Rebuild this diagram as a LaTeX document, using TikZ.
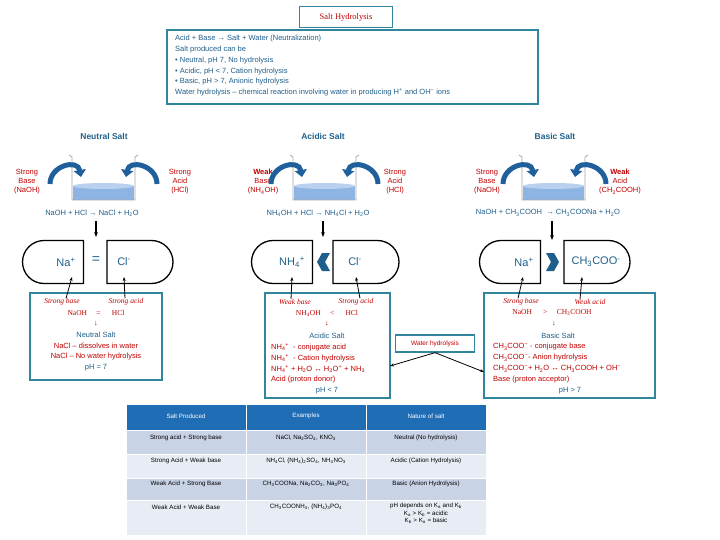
\documentclass[tikz,border=0pt]{standalone}
\usepackage{fontspec}
\setmainfont{Liberation Sans}
\newfontfamily\serifit{Liberation Serif}
\usetikzlibrary{shapes.misc,arrows.meta}
\definecolor{rd}{HTML}{C00000}
\definecolor{bl}{HTML}{1F5F8B}
\definecolor{tl}{HTML}{31859C}
\definecolor{hd}{HTML}{1F6EB5}
\definecolor{ra}{HTML}{C9D3E6}
\definecolor{rb}{HTML}{E8ECF4}
\definecolor{arr}{HTML}{1F5F9B}
\definecolor{liq}{HTML}{8EB4E3}
\definecolor{liqt}{HTML}{B9D0EE}
\newcommand{\ssb}[1]{\textsubscript{#1}}
\newcommand{\ssp}[1]{\textsuperscript{#1}}
\tikzset{
 txt/.style={font=\fontsize{7.5}{9}\selectfont, inner sep=0pt},
 rtxt/.style={txt, text=rd, align=center},
 btxt/.style={txt, text=bl},
 head/.style={font=\fontsize{8.5}{10}\selectfont\bfseries, text=bl, inner sep=0pt},
 ser/.style={font=\fontsize{7.5}{9}\selectfont\serifit\itshape, text=rd, inner sep=0pt},
 sern/.style={font=\fontsize{7.5}{9}\selectfont\serifit, text=rd, inner sep=0pt},
 tbox/.style={draw=tl, line width=1.5pt, fill=white},
 ionL/.style={rounded rectangle, rounded rectangle right arc=none, draw, line width=1.3pt, minimum width=61pt, minimum height=43pt, inner sep=0pt},
 ionR/.style={rounded rectangle, rounded rectangle left arc=none, draw, line width=1.3pt, minimum width=66pt, minimum height=43pt, inner sep=0pt},
 iontxt/.style={font=\fontsize{11}{13}\selectfont, text=bl, inner sep=0pt},
 curv/.style={draw=arr, line width=5pt, -{Triangle[length=7pt,width=12pt]}},
 blk/.style={-{Stealth[length=5pt]}, line width=1.1pt},
 thin/.style={-{Stealth[length=4pt]}, line width=0.8pt},
 cell/.style={font=\fontsize{6.2}{7.5}\selectfont, inner sep=0pt, align=center},
}
\newcommand{\beaker}[3]{% name, left x, top y
 \fill[liq] (#2+1,#3+31) rectangle (#2+62,#3+45);
 \fill[liqt] (#2+31.5,#3+31) ellipse (30.5 and 3);
 \draw[gray!70, line width=0.8pt] (#2-3,#3) -- (#2,#3+2) -- (#2,#3+45) -- (#2+63,#3+45) -- (#2+63,#3+2) -- (#2+66,#3);
 \coordinate (#1) at (#2+31.5,#3+22);
}
\begin{document}
\begin{tikzpicture}[x=1pt,y=-1pt]
\useasboundingbox (0,0) rectangle (720,540);
% title
\node[draw=tl, line width=1.5pt, minimum width=93pt, minimum height=21pt, font=\fontsize{8.5}{10}\selectfont\serifit, text=rd] (title) at (346,17) {Salt Hydrolysis};
\draw[tbox] (167,30) rectangle (538,104);
\node[btxt, anchor=north west, align=left, font=\fontsize{7.5}{10.8}\selectfont] (info) at (175,35) {Acid + Base → Salt + Water (Neutralization)\\Salt produced can be\\• Neutral, pH 7, No hydrolysis\\• Acidic, pH < 7, Cation hydrolysis\\• Basic, pH > 7, Anionic hydrolysis\\Water hydrolysis – chemical reaction involving water in producing H\ssp{+} and OH\ssp{−} ions};

% ===== Neutral =====
\node[head] (h1) at (104,136) {Neutral Salt};
\beaker{bk1}{72}{155}
\node[rtxt] (sb1) at (27,182) {Strong\\Base\\(NaOH)};
\node[rtxt] (sa1) at (180,182) {Strong\\Acid\\(HCl)};
\draw[curv] (50,184) to[out=90,in=100,looseness=1.5] (81,177);
\draw[curv] (157,184) to[out=90,in=80,looseness=1.5] (126,177);
\node[btxt] (eq1) at (92,213) {NaOH + HCl → NaCl + H\ssb{2}O};
\node[ionL] (na1) at (53,262) {};
\node[iontxt] at (66,262) {Na\ssp{+}};
\node[ionR] (cl1) at (140,262) {};
\node[iontxt] at (124,262) {Cl\ssp{-}};
\node[iontxt, font=\fontsize{14}{14}\selectfont] (eqs) at (96,260) {=};
\draw[blk] (96,221) -- (96,237);
\draw[tbox] (30,293) rectangle (162,380);
\node[ser] (l1a) at (62,302) {Strong base};
\node[ser] (l1b) at (126,302) {Strong acid};
\node[sern] at (96,313) {NaOH\quad\ =\quad\ \ HCl};
\node[txt,text=rd] at (96,324) {↓};
\node[btxt] at (96,335) {Neutral Salt};
\node[rtxt] at (96,346) {NaCl – dissolves in water};
\node[rtxt] at (96,357) {NaCl – No water hydrolysis};
\node[btxt] at (96,368) {pH = 7};
\draw[thin] (l1a.north) ++(4,0) -- (72,277);
\draw[thin] (l1b.north) ++(-1,0) -- (124,277);

% ===== Acidic =====
\node[head] (h2) at (323,136) {Acidic Salt};
\beaker{bk2}{293}{155}
\node[rtxt] (wb2) at (263,182) {\textbf{Weak}\\Base\\(NH\ssb{4}OH)};
\node[rtxt] (sa2) at (395,182) {Strong\\Acid\\(HCl)};
\draw[curv] (271,184) to[out=90,in=100,looseness=1.5] (302,177);
\draw[curv] (378,184) to[out=90,in=80,looseness=1.5] (347,177);
\node[btxt] (eq2) at (318,213) {NH\ssb{4}OH + HCl → NH\ssb{4}Cl + H\ssb{2}O};
\node[ionL] (nh) at (282,262) {};
\node[iontxt] at (292,262) {NH\ssb{4}\ssp{+}};
\node[ionR] (cl2) at (366,262) {};
\node[iontxt] at (355,262) {Cl\ssp{-}};
\fill[bl] (330,253) -- (325,262) -- (330,271) -- (322,271) -- (317,262) -- (322,253) -- cycle;
\coordinate (c2) at (323,237);
\draw[blk] (323,221) -- (c2);
\draw[tbox] (265,293) rectangle (390,398);
\node[ser] (l2a) at (295,302) {Weak base};
\node[ser] (l2b) at (356,302) {Strong acid};
\node[sern] at (327,313) {NH\ssb{4}OH\quad\ <\quad\ \ HCl};
\node[txt,text=rd] at (327,324) {↓};
\node[btxt] at (327,336) {Acidic Salt};
\node[txt, text=rd, anchor=west] at (271,347) {NH\ssb{4}\ssp{+}\ \ - conjugate acid};
\node[txt, text=rd, anchor=west] at (271,358) {NH\ssb{4}\ssp{+}\ \ - Cation hydrolysis};
\node[txt, text=rd, anchor=west] at (271,369) {NH\ssb{4}\ssp{+} + H\ssb{2}O ↔ H\ssb{3}O\ssp{+} + NH\ssb{3}};
\node[txt, text=rd, anchor=west] at (271,380) {Acid (proton donor)};
\node[btxt] at (327,391) {pH < 7};
\draw[thin] (l2a.north) ++(-4,0) -- (292,277);
\draw[thin] (l2b.north) ++(4,0) -- (356,277);

% ===== Basic =====
\node[head] (h3) at (555,136) {Basic Salt};
\beaker{bk3}{522}{155}
\node[rtxt] (sb3) at (487,182) {Strong\\Base\\(NaOH)};
\node[rtxt] (wa3) at (620,182) {\textbf{Weak}\\Acid\\(CH\ssb{3}COOH)};
\draw[curv] (503,184) to[out=90,in=100,looseness=1.5] (534,177);
\draw[curv] (606,184) to[out=90,in=80,looseness=1.5] (575,177);
\node[btxt] (eq3) at (548,213) {NaOH + CH\ssb{3}COOH\ \ → CH\ssb{3}COONa + H\ssb{2}O};
\node[ionL] (na3) at (510,262) {};
\node[iontxt] at (524,262) {Na\ssp{+}};
\node[ionR] (ac3) at (597,262) {};
\node[iontxt] at (596,262) {CH\ssb{3}COO\ssp{-}};
\fill[bl] (546,253) -- (551,262) -- (546,271) -- (554,271) -- (559,262) -- (554,253) -- cycle;
\coordinate (c3) at (552,240);
\draw[blk] (552,221) -- (c3);
\draw[tbox] (484,293) rectangle (655,398);
\node[ser] (l3a) at (521,302) {Strong base};
\node[ser] (l3b) at (590,302) {Weak acid};
\node[sern] at (552,313) {NaOH\quad\ \ >\ \quad CH\ssb{3}COOH};
\node[txt,text=rd] at (554,324) {↓};
\node[btxt] at (558,336) {Basic Salt};
\node[txt, text=rd, anchor=west] at (493,347) {CH\ssb{3}COO\ssp{−} - conjugate base};
\node[txt, text=rd, anchor=west] at (493,358) {CH\ssb{3}COO\ssp{−}- Anion hydrolysis};
\node[txt, text=rd, anchor=west] at (493,369) {CH\ssb{3}COO\ssp{−}+ H\ssb{2}O ↔ CH\ssb{3}COOH + OH\ssp{−}};
\node[txt, text=rd, anchor=west] at (493,380) {Base (proton acceptor)};
\node[btxt] at (570,391) {pH > 7};
\draw[thin] (l3a.north) ++(-3,0) -- (523,277);
\draw[thin] (l3b.north) ++(-10,0) -- (582,277);

% water hydrolysis
\node[draw=tl, line width=1.3pt, minimum width=79pt, minimum height=17pt, font=\fontsize{6.5}{8}\selectfont, text=rd, fill=white] (wh) at (435,343.5) {Water hydrolysis};
\draw[thin] (wh.south) -- (390,366);
\draw[thin] (wh.south) -- (484,372);

% ===== Table =====
\fill[hd] (127,405) rectangle (486,430);
\fill[ra] (127,430) rectangle (486,454);
\fill[rb] (127,454) rectangle (486,478);
\fill[ra] (127,478) rectangle (486,500);
\fill[rb] (127,500) rectangle (486,535);
\draw[white, line width=1pt] (127,430) -- (486,430) (127,454) -- (486,454) (127,478) -- (486,478) (127,500) -- (486,500) (246,405) -- (246,535) (366,405) -- (366,535);
\node[cell, text=white] (t00) at (186,416) {Salt Produced};
\node[cell, text=white] (t01) at (306,416) {Examples};
\node[cell, text=white] (t02) at (426,416) {Nature of salt};
\node[cell] (t10) at (186,438) {Strong acid + Strong base};
\node[cell] (t11) at (306,438) {NaCl, Na\ssb{2}SO\ssb{4}, KNO\ssb{3}};
\node[cell] (t12) at (426,438) {Neutral (No hydrolysis)};
\node[cell] (t20) at (186,461) {Strong Acid + Weak base};
\node[cell] (t21) at (306,461) {NH\ssb{4}Cl, (NH\ssb{4})\ssb{2}SO\ssb{4}, NH\ssb{4}NO\ssb{3}};
\node[cell] (t22) at (426,461) {Acidic (Cation Hydrolysis)};
\node[cell] (t30) at (186,484) {Weak Acid + Strong Base};
\node[cell] (t31) at (306,484) {CH\ssb{3}COONa, Na\ssb{2}CO\ssb{3}, Na\ssb{3}PO\ssb{4}};
\node[cell] (t32) at (426,484) {Basic (Anion Hydrolysis)};
\node[cell] (t40) at (186,507) {Weak Acid + Weak Base};
\node[cell] (t41) at (306,507) {CH\ssb{3}COONH\ssb{4}, (NH\ssb{4})\ssb{3}PO\ssb{4}};
\node[cell, anchor=north] (t42) at (426,503) {pH depends on K\ssb{a} and K\ssb{b}\\K\ssb{a} > K\ssb{b} = acidic\\K\ssb{b} > K\ssb{a} = basic};
\end{tikzpicture}
\end{document}
